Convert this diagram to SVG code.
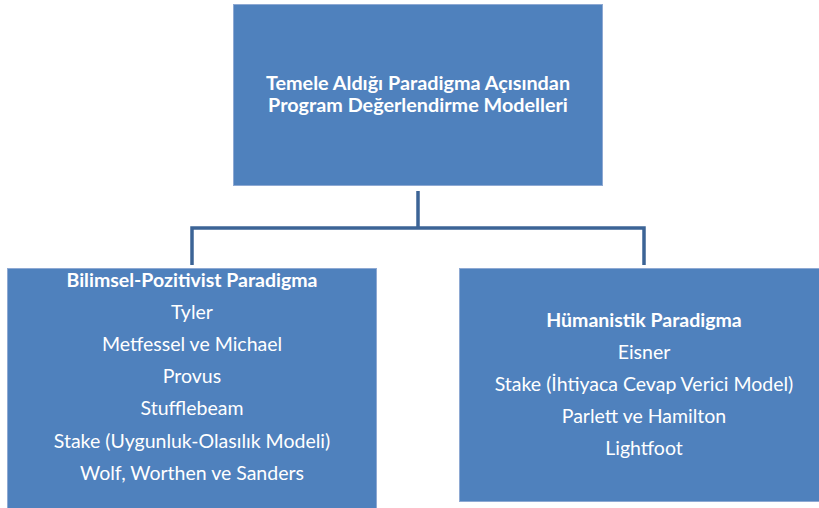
<svg xmlns="http://www.w3.org/2000/svg" width="819" height="508" viewBox="0 0 819 508">
<style>
.box{fill:#4F81BD;stroke:#8EA9D3;stroke-width:1}
.t{font-family:Lato,"Open Sans","Liberation Sans",sans-serif;font-size:19.5px;fill:#FFFFFF;text-anchor:middle}
.b{font-weight:bold}
.h{font-size:19.8px}
.c{fill:none;stroke:#3C6496;stroke-width:3.5}
</style>
<rect width="819" height="508" fill="#FFFFFF"/>
<g id="connectors">
<path class="c" d="M418 191 V228 M192 265 V228 H644 V265"/>
</g>
<g id="root">
<rect class="box" x="233.5" y="4.5" width="369" height="181"/>
<text class="t b h" x="418" y="90">Temele Aldığı Paradigma Açısından</text>
<text class="t b h" x="418" y="112">Program Değerlendirme Modelleri</text>
</g>
<g id="bilimsel">
<rect class="box" x="7.5" y="268.5" width="369" height="245"/>
<text class="t b" x="192" y="287">Bilimsel-Pozitivist Paradigma</text>
<text class="t" x="192" y="319">Tyler</text>
<text class="t" x="192" y="351">Metfessel ve Michael</text>
<text class="t" x="192" y="383">Provus</text>
<text class="t" x="192" y="415">Stufflebeam</text>
<text class="t" x="192" y="448">Stake (Uygunluk-Olasılık Modeli)</text>
<text class="t" x="192" y="480">Wolf, Worthen ve Sanders</text>
</g>
<g id="humanistik">
<rect class="box" x="459.5" y="268.5" width="369" height="233"/>
<text class="t b" x="644" y="327">Hümanistik Paradigma</text>
<text class="t" x="644" y="359">Eisner</text>
<text class="t" x="644" y="391">Stake (İhtiyaca Cevap Verici Model)</text>
<text class="t" x="644" y="423">Parlett ve Hamilton</text>
<text class="t" x="644" y="455">Lightfoot</text>
</g>
</svg>
